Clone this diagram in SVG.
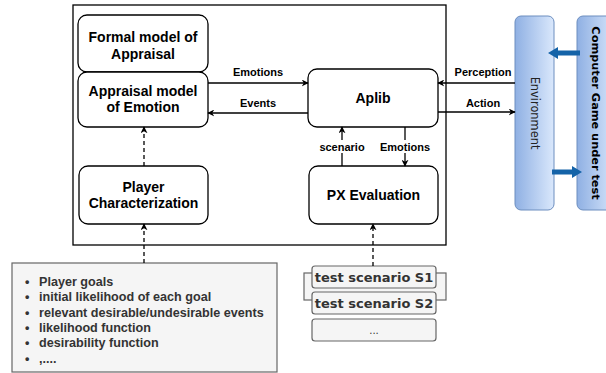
<svg xmlns="http://www.w3.org/2000/svg" width="606" height="373" viewBox="0 0 606 373">
<style>
.node{fill:#fff;stroke:#000;stroke-width:1.3}
.t{font-family:"Liberation Sans",Arial,sans-serif;font-weight:bold;font-size:14px;fill:#000;text-anchor:middle}
.el{font-family:"Liberation Sans",Arial,sans-serif;font-weight:bold;font-size:11px;fill:#000;text-anchor:middle}
.c{fill:none;stroke:#000;stroke-width:1.3}
.d{fill:none;stroke:#000;stroke-width:1.3;stroke-dasharray:4 3}
.li{font-family:"Liberation Sans",Arial,sans-serif;font-weight:bold;font-size:12.6px;fill:#333}
.sc{fill:#f5f5f5;stroke:#666;stroke-width:1.2}
.st{font-family:"DejaVu Sans",Verdana,sans-serif;font-weight:bold;font-size:13px;fill:#333;text-anchor:middle}
.env{fill:url(#bg);stroke:#6c8ebf;stroke-width:1}
.ba{fill:#1463a8;stroke:none}
</style>
<defs>
<linearGradient id="bg" x1="0" y1="0" x2="1" y2="0">
<stop offset="0" stop-color="#8fb0e3"/>
<stop offset="1" stop-color="#dae8fc"/>
</linearGradient>
<marker id="ah" viewBox="0 0 10 10" refX="9" refY="5" markerWidth="7" markerHeight="7" orient="auto" markerUnits="userSpaceOnUse">
<path d="M0,0 L10,5 L0,10 L3,5 Z" fill="#000"/>
</marker>
</defs>

<rect x="73" y="5" width="373" height="240" fill="#fff" stroke="#000" stroke-width="1.3"/>

<g id="formal">
<rect class="node" x="78" y="15" width="130" height="57" rx="9"/>
<text class="t" x="143" y="42">Formal model of</text>
<text class="t" x="143" y="59">Appraisal</text>
</g>
<g id="appraisal">
<rect class="node" x="78" y="72" width="130" height="55" rx="9"/>
<text class="t" x="143" y="96">Appraisal model</text>
<text class="t" x="143" y="112">of Emotion</text>
</g>
<g id="aplib">
<rect class="node" x="308" y="69" width="130" height="58" rx="9"/>
<text class="t" x="373" y="103">Aplib</text>
</g>
<g id="player">
<rect class="node" x="79" y="166" width="129" height="58" rx="9"/>
<text class="t" x="143.5" y="192">Player</text>
<text class="t" x="143.5" y="208">Characterization</text>
</g>
<g id="px">
<rect class="node" x="309" y="166" width="129" height="58" rx="9"/>
<text class="t" x="373.5" y="200">PX Evaluation</text>
</g>

<g id="environment">
<rect class="env" x="515" y="16" width="39" height="194" rx="6"/>
<text x="535" y="113" transform="rotate(90 535 113)" text-anchor="middle" dominant-baseline="central" font-family="'DejaVu Sans',Verdana,sans-serif" font-size="11.4px" fill="#222">Environment</text>
</g>
<g id="game">
<rect class="env" x="577" y="16" width="40" height="194" rx="6"/>
<text x="595" y="113" transform="rotate(90 595 113)" text-anchor="middle" dominant-baseline="central" font-family="'DejaVu Sans',Verdana,sans-serif" font-size="11.3px" font-weight="bold" fill="#000">Computer Game under test</text>
</g>

<g id="list">
<rect class="sc" x="12" y="263" width="265" height="109"/>
<text class="li" x="25" y="286">•</text><text class="li" x="39" y="286">Player goals</text>
<text class="li" x="25" y="301">•</text><text class="li" x="39" y="301">initial likelihood of each goal</text>
<text class="li" x="25" y="317">•</text><text class="li" x="39" y="317">relevant desirable/undesirable events</text>
<text class="li" x="25" y="332">•</text><text class="li" x="39" y="332">likelihood function</text>
<text class="li" x="25" y="347">•</text><text class="li" x="39" y="347">desirability function</text>
<text class="li" x="25" y="363">•</text><text class="li" x="39" y="363">,....</text>
</g>

<g id="scenarios">
<rect class="sc" x="304" y="273" width="142" height="27"/>
<g id="s1">
<rect class="sc" x="312" y="266" width="124" height="22" rx="3"/>
<text class="st" x="374" y="282">test scenario S1</text>
</g>
<g id="s2">
<rect class="sc" x="312" y="292" width="124" height="22" rx="3"/>
<text class="st" x="374" y="308">test scenario S2</text>
</g>
<g id="s3">
<rect class="sc" x="312" y="319" width="124" height="22" rx="3"/>
<text x="374" y="334" text-anchor="middle" font-family="'DejaVu Sans',Verdana,sans-serif" font-size="10px" fill="#333">...</text>
</g>
</g>

<g id="connectors">
<line class="c" x1="208" y1="83" x2="308" y2="83" marker-end="url(#ah)"/>
<line class="c" x1="308" y1="113" x2="208" y2="113" marker-end="url(#ah)"/>
<line class="c" x1="515" y1="83" x2="438" y2="83" marker-end="url(#ah)"/>
<line class="c" x1="438" y1="112" x2="515" y2="112" marker-end="url(#ah)"/>
<line class="c" x1="342" y1="166" x2="342" y2="127" marker-end="url(#ah)"/>
<line class="c" x1="405" y1="127" x2="405" y2="166" marker-end="url(#ah)"/>
<line class="d" x1="144" y1="166" x2="144" y2="127" marker-end="url(#ah)"/>
<line class="d" x1="144" y1="263" x2="144" y2="224" marker-end="url(#ah)"/>
<line class="d" x1="373" y1="266" x2="373" y2="224" marker-end="url(#ah)"/>
<rect x="318" y="140" width="48" height="13" fill="#fff"/>
<rect x="380" y="140" width="50" height="13" fill="#fff"/>
<text class="el" x="258" y="76">Emotions</text>
<text class="el" x="258" y="107">Events</text>
<text class="el" x="483" y="76">Perception</text>
<text class="el" x="483" y="107">Action</text>
<text class="el" x="342" y="151">scenario</text>
<text class="el" x="405" y="151">Emotions</text>
<path class="ba" d="M580,50.5 L558,50.5 L558,47 L548,53 L558,59 L558,55.5 L580,55.5 Z"/>
<path class="ba" d="M552,169.5 L572,169.5 L572,166 L582,172 L572,178 L572,174.5 L552,174.5 Z"/>
</g>
</svg>
